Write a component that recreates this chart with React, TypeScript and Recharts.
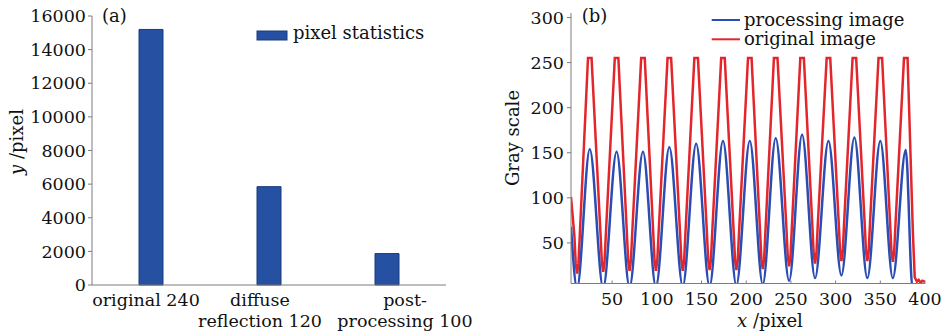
import React from "react"
import { BarChart, Bar, LineChart, Line, XAxis, YAxis } from "recharts"

const serif = "'DejaVu Serif', serif"
const axisGray = "#7c7c7c"
const ink = "#111111"
const barBlue = "#2651a3"
const lineBlue = "#2b4cb2"
const lineRed = "#e3262c"

// (a) pixel statistics
const categories = ["original 240", "diffuse\nreflection 120", "post-\nprocessing 100"]
const pixelCounts = [15200, 5850, 1870]
const countTicks = [0, 2000, 4000, 6000, 8000, 10000, 12000, 14000, 16000]

// (b) gray scale along x, [x, gray]
const originalImage = [
  [4, 101], [7.8, 58], [9.3, 27], [10.8, 16], [12.3, 27], [13.8, 58],
  [23, 255], [27, 255], [37, 60], [38.5, 29], [40, 18], [41.5, 29], [43, 60],
  [53, 255], [57, 255], [66.5, 61], [68, 30], [69.5, 19], [71, 30], [72.5, 61],
  [82.5, 255], [86.5, 255], [96, 61], [97.5, 30], [99, 19], [100.5, 30], [102, 61],
  [112, 255], [116, 255], [126, 61], [127.5, 30], [129, 19], [130.5, 30], [132, 61],
  [142, 255], [146, 255], [156, 62], [157.5, 31], [159, 20], [160.5, 31], [162, 62],
  [172, 255], [176, 255], [186, 62], [187.5, 31], [189, 20], [190.5, 31], [192, 62],
  [202, 255], [206, 255], [215.5, 63], [217, 32], [218.5, 21], [220, 32], [221.5, 63],
  [231, 255], [235, 255], [245, 66], [246.5, 35], [248, 24], [249.5, 35], [251, 66],
  [260.5, 255], [264.5, 255], [274, 69], [275.5, 38], [277, 27], [278.5, 38], [280, 69],
  [290, 255], [294, 255], [303.5, 72], [305, 41], [306.5, 30], [308, 41], [309.5, 72],
  [319, 255], [323, 255], [332.5, 72], [334, 41], [335.5, 30], [337, 41], [338.5, 72],
  [348, 255], [352, 255], [361, 71], [362.5, 40], [364, 29], [365.5, 40], [367, 71],
  [376.5, 255], [380.5, 255], [386.5, 60], [388.5, 12], [391, 7],
  [393, 9], [395, 6], [397, 8], [400, 7],
]
const processingImage = [
  [4, 68], [10.8, 0], [25, 154], [40, 0], [55, 151], [69.5, 1], [84.5, 151],
  [99, 1], [114, 156], [129, 2], [144, 160], [159, 2], [174, 163], [189, 3],
  [204, 163], [218.5, 4], [233, 166], [248, 8], [262.5, 170], [277, 11],
  [292, 163], [306.5, 14], [321, 167], [335.5, 11], [350, 163], [364, 11],
  [378.5, 153], [386, 0], [400, 0],
]
const xTicks = [50, 100, 150, 200, 250, 300, 350, 400]
const grayTicks = [50, 100, 150, 200, 250, 300]

const barData = categories.map((name, i) => ({ name, value: pixelCounts[i] }))
const toPoints = (rows: number[][]) => rows.map(([x, y]) => ({ x, y }))

const tickStyle = { fontFamily: serif, fontSize: 17.5, fill: ink }
const labelShift = [-5, -9, 18]

function CategoryTick(props: any) {
  const { x, y, index } = props
  const lines = categories[index].split("\n")
  const cx = x + labelShift[index]
  return (
    <text x={cx} y={y} textAnchor="middle" fontFamily={serif} fontSize={17.5} fill={ink}>
      {lines.map((line, i) => (
        <tspan key={i} x={cx} y={y + 21 + i * 21}>
          {line}
        </tspan>
      ))}
    </text>
  )
}

export default function App() {
  return (
    <div style={{ position: "absolute", left: 0, top: 0, width: 946, height: 332, background: "#fff" }}>
      <div style={{ position: "absolute", left: 0, top: 0 }}>
        <BarChart
          width={480}
          height={332}
          data={barData}
          margin={{ top: 16, right: 34, bottom: 0, left: 0 }}
        >
          <XAxis
            dataKey="name"
            height={47}
            tickLine={false}
            tickSize={0}
            tickMargin={0}
            interval={0}
            axisLine={{ stroke: axisGray }}
            tick={<CategoryTick />}
          />
          <YAxis
            width={92}
            domain={[0, 16000]}
            ticks={countTicks}
            interval={0}
            tickSize={4}
            tickMargin={2}
            axisLine={{ stroke: axisGray }}
            tickLine={{ stroke: axisGray }}
            tick={tickStyle}
          />
          <Bar dataKey="value" fill={barBlue} stroke="#1b3a7e" barSize={24} isAnimationActive={false} />
          <text x={102} y={21.5} fontFamily={serif} fontSize={18} fill={ink}>(a)</text>
          <rect x={257} y={31} width={30} height={9} fill={barBlue} stroke="#1b3a7e" />
          <text x={293} y={38.5} fontFamily={serif} fontSize={18} fill={ink}>pixel statistics</text>
          <text
            transform="translate(23,142) rotate(-90)"
            textAnchor="middle"
            fontFamily={serif}
            fontSize={18}
            fill={ink}
          >
            <tspan fontStyle="italic">y</tspan> /pixel
          </text>
        </BarChart>
      </div>
      <div style={{ position: "absolute", left: 480, top: 0 }}>
        <LineChart width={466} height={332} margin={{ top: 13, right: 21, bottom: 0, left: 0 }}>
          <XAxis
            type="number"
            dataKey="x"
            domain={[4, 400]}
            allowDataOverflow
            ticks={xTicks}
            interval={0}
            height={48.5}
            tickSize={-3}
            tickMargin={12.5}
            axisLine={{ stroke: axisGray }}
            tickLine={{ stroke: axisGray }}
            tick={tickStyle}
          />
          <YAxis
            type="number"
            dataKey="y"
            width={91}
            domain={[5, 305]}
            allowDataOverflow
            ticks={grayTicks}
            interval={0}
            tickSize={4}
            tickMargin={3}
            axisLine={{ stroke: axisGray }}
            tickLine={{ stroke: axisGray }}
            tick={tickStyle}
          />
          <Line
            data={toPoints(originalImage)}
            dataKey="y"
            type="linear"
            stroke={lineRed}
            strokeWidth={2.5}
            dot={false}
            isAnimationActive={false}
          />
          <Line
            data={toPoints(processingImage)}
            dataKey="y"
            type="monotone"
            stroke={lineBlue}
            strokeWidth={2.5}
            dot={false}
            isAnimationActive={false}
          />
          <text x={101.7} y={21.5} fontFamily={serif} fontSize={18} fill={ink}>(b)</text>
          <line x1={231.7} x2={260} y1={20} y2={20} stroke={lineBlue} strokeWidth={2} />
          <text x={264} y={25.5} fontFamily={serif} fontSize={18} fill={ink}>processing image</text>
          <line x1={231.7} x2={260} y1={39.3} y2={39.3} stroke={lineRed} strokeWidth={2} />
          <text x={264} y={45} fontFamily={serif} fontSize={18} fill={ink}>original image</text>
          <text
            transform="translate(39,138) rotate(-90)"
            textAnchor="middle"
            fontFamily={serif}
            fontSize={18}
            fill={ink}
          >
            Gray scale
          </text>
          <text x={290} y={327} textAnchor="middle" fontFamily={serif} fontSize={18} fill={ink}>
            <tspan fontStyle="italic">x</tspan> /pixel
          </text>
        </LineChart>
      </div>
    </div>
  )
}
